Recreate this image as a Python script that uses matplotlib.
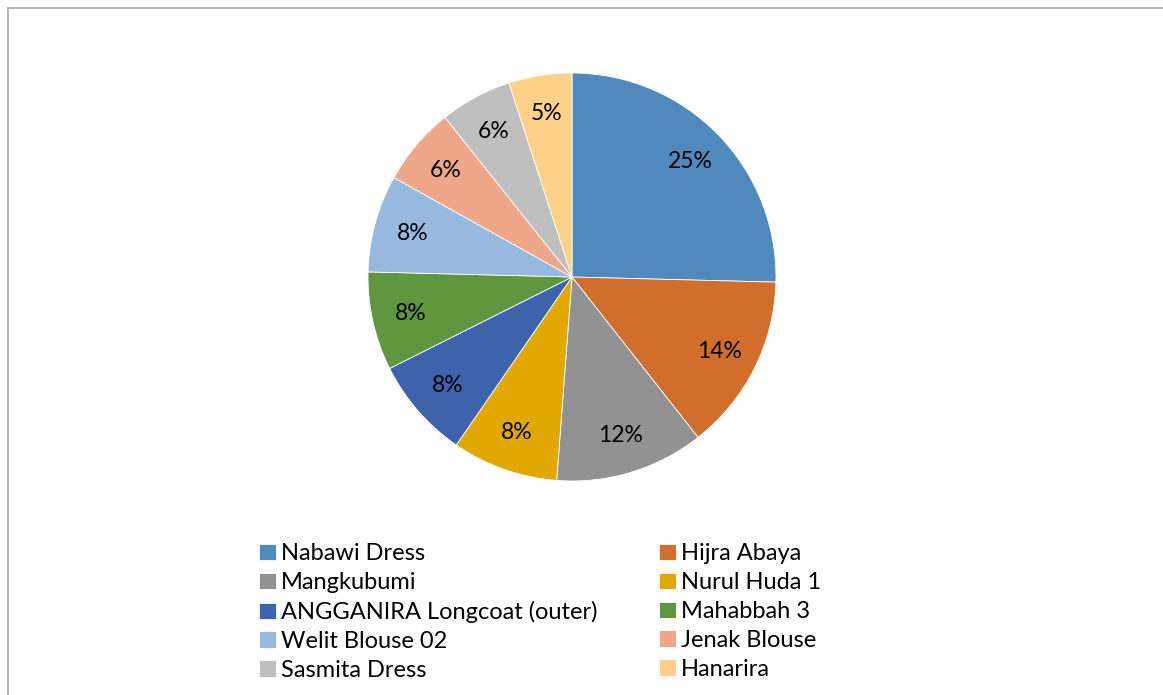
import matplotlib.pyplot as plt
from matplotlib.lines import Line2D

plt.rcParams['font.family'] = ['Lato', 'DejaVu Sans']

# data
products = ['Nabawi Dress', 'Hijra Abaya', 'Mangkubumi', 'Nurul Huda 1',
            'ANGGANIRA Longcoat (outer)', 'Mahabbah 3', 'Welit Blouse 02',
            'Jenak Blouse', 'Sasmita Dress', 'Hanarira']
shares = [25.4, 14.0, 11.8, 8.4, 8.0, 7.8, 7.7, 6.2, 5.7, 5.0]
colors = ['#4F89BD', '#D26E2B', '#929292', '#E0A800', '#3C63AC',
          '#5F963E', '#97B9E0', '#EFA78A', '#BFBFBF', '#FED188']

W, H = 1163, 695
fig = plt.figure(figsize=(W / 100, H / 100), dpi=100)

# pie: centre (572, 277), radius 204 px
cx, cy, r = 572, 277, 204
ax = fig.add_axes([(cx - r) / W, 1 - (cy + r) / H, 2 * r / W, 2 * r / H])
wedges, _, autotexts = ax.pie(shares, colors=colors, startangle=90, counterclock=False,
                              autopct='%.0f%%', pctdistance=0.81,
                              wedgeprops=dict(edgecolor='white', linewidth=0.6),
                              textprops=dict(fontsize=16.5, color='black'))
ax.set_xlim(-1, 1)
ax.set_ylim(-1, 1)
ax.set_aspect('equal')

# legend, two columns, row-wise order
order = [0, 2, 4, 6, 8, 1, 3, 5, 7, 9]
leg = fig.legend([wedges[i] for i in order], [products[i] for i in order],
                 ncol=2, loc='upper left', bbox_to_anchor=(250 / W, 1 - 534 / H),
                 frameon=False, fontsize=17, handlelength=0.7, handleheight=0.7,
                 handletextpad=0.2, columnspacing=2.63, labelspacing=0.33,
                 borderaxespad=0)

# outer frame (top and left visible)
fig.add_artist(Line2D([8 / W, 1], [1 - 8 / H, 1 - 8 / H], color='#A6A6A6', lw=1.2,
                      transform=fig.transFigure))
fig.add_artist(Line2D([8 / W, 8 / W], [0, 1 - 8 / H], color='#A6A6A6', lw=1.2,
                      transform=fig.transFigure))

fig.savefig('out.png', dpi=100)
